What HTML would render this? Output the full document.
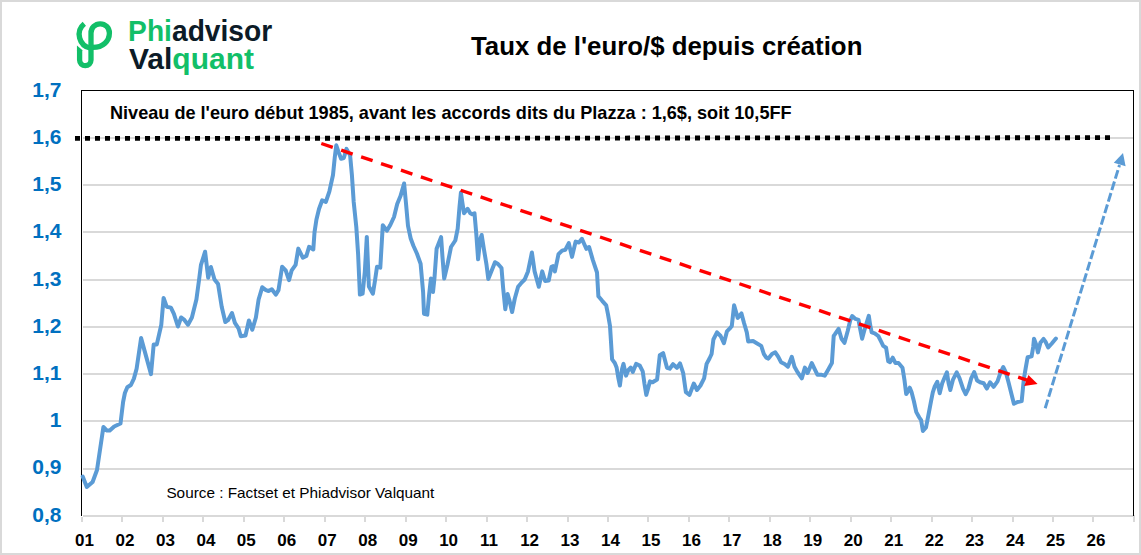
<!DOCTYPE html>
<html><head><meta charset="utf-8"><title>Taux de l'euro/$ depuis création</title>
<style>
html,body{margin:0;padding:0;background:#fff;}
body{width:1141px;height:555px;overflow:hidden;font-family:"Liberation Sans", sans-serif;}
svg{display:block;}
text{font-family:"Liberation Sans", sans-serif;}
</style></head><body>
<svg width="1141" height="555" viewBox="0 0 1141 555">
<rect x="0" y="0" width="1141" height="555" fill="#fff"/>
<rect x="1" y="1" width="1139" height="553" fill="none" stroke="#d9d9d9" stroke-width="2"/>

<g fill="#d9d9d9" shape-rendering="crispEdges">
<rect x="83" y="468" width="1050" height="2"/>
<rect x="83" y="420" width="1050" height="2"/>
<rect x="83" y="373" width="1050" height="2"/>
<rect x="83" y="326" width="1050" height="2"/>
<rect x="83" y="279" width="1050" height="2"/>
<rect x="83" y="231" width="1050" height="2"/>
<rect x="83" y="184" width="1050" height="2"/>
<rect x="83" y="137" width="1050" height="2"/>
<rect x="83" y="515" width="1052" height="2"/>
<rect x="81" y="517" width="2" height="5"/>
<rect x="121" y="517" width="2" height="5"/>
<rect x="162" y="517" width="2" height="5"/>
<rect x="202" y="517" width="2" height="5"/>
<rect x="243" y="517" width="2" height="5"/>
<rect x="283" y="517" width="2" height="5"/>
<rect x="324" y="517" width="2" height="5"/>
<rect x="364" y="517" width="2" height="5"/>
<rect x="405" y="517" width="2" height="5"/>
<rect x="445" y="517" width="2" height="5"/>
<rect x="486" y="517" width="2" height="5"/>
<rect x="526" y="517" width="2" height="5"/>
<rect x="567" y="517" width="2" height="5"/>
<rect x="607" y="517" width="2" height="5"/>
<rect x="647" y="517" width="2" height="5"/>
<rect x="688" y="517" width="2" height="5"/>
<rect x="728" y="517" width="2" height="5"/>
<rect x="769" y="517" width="2" height="5"/>
<rect x="809" y="517" width="2" height="5"/>
<rect x="850" y="517" width="2" height="5"/>
<rect x="890" y="517" width="2" height="5"/>
<rect x="931" y="517" width="2" height="5"/>
<rect x="971" y="517" width="2" height="5"/>
<rect x="1012" y="517" width="2" height="5"/>
<rect x="1052" y="517" width="2" height="5"/>
<rect x="1092" y="517" width="2" height="5"/>
<rect x="1133" y="517" width="2" height="5"/>
</g>
<g fill="#000" shape-rendering="crispEdges">
<rect x="81" y="90" width="1053" height="1"/>
<rect x="81" y="90" width="1" height="426"/>
<rect x="1133" y="90" width="1" height="426"/>
</g>
<g fill="#0070c0" font-weight="bold" font-size="21" text-anchor="end">
<text x="61.5" y="96.6">1,7</text>
<text x="61.5" y="144.0">1,6</text>
<text x="61.5" y="191.1">1,5</text>
<text x="61.5" y="238.3">1,4</text>
<text x="61.5" y="285.7">1,3</text>
<text x="61.5" y="333.1">1,2</text>
<text x="61.5" y="379.9">1,1</text>
<text x="61.5" y="427.1">1</text>
<text x="61.5" y="474.3">0,9</text>
<text x="61.5" y="521.6">0,8</text>
</g>
<g fill="#000" font-weight="bold" font-size="17" text-anchor="middle">
<text x="84.5" y="546">01</text>
<text x="125.0" y="546">02</text>
<text x="165.4" y="546">03</text>
<text x="205.9" y="546">04</text>
<text x="246.3" y="546">05</text>
<text x="286.8" y="546">06</text>
<text x="327.3" y="546">07</text>
<text x="367.7" y="546">08</text>
<text x="408.2" y="546">09</text>
<text x="448.6" y="546">10</text>
<text x="489.1" y="546">11</text>
<text x="529.6" y="546">12</text>
<text x="570.0" y="546">13</text>
<text x="610.5" y="546">14</text>
<text x="650.9" y="546">15</text>
<text x="691.4" y="546">16</text>
<text x="731.9" y="546">17</text>
<text x="772.3" y="546">18</text>
<text x="812.8" y="546">19</text>
<text x="853.2" y="546">20</text>
<text x="893.7" y="546">21</text>
<text x="934.2" y="546">22</text>
<text x="974.6" y="546">23</text>
<text x="1015.1" y="546">24</text>
<text x="1055.5" y="546">25</text>
<text x="1096.0" y="546">26</text>
</g>
<line x1="75" y1="138.4" x2="1110" y2="137.7" stroke="#000" stroke-width="4.8" stroke-dasharray="5 5"/>
<polyline points="82.7,476.6 86.8,487.0 92.6,482.0 97.0,470.0 103.4,427.0 107.0,430.6 109.7,430.6 114.2,426.5 120.5,423.5 123.1,402.0 124.9,393.0 127.3,387.3 130.9,385.0 133.9,378.6 136.6,368.7 141.1,338.1 151.0,374.1 153.7,344.4 156.8,344.4 158.5,337.0 161.3,324.7 163.6,298.0 166.7,306.7 170.9,307.6 173.9,313.9 177.9,326.5 181.1,317.5 183.8,319.3 188.0,324.7 191.9,317.5 196.4,299.5 199.1,279.6 200.9,265.2 205.1,251.7 208.2,277.8 210.9,267.0 214.5,279.5 218.1,284.1 221.7,306.7 225.3,322.0 228.0,320.2 232.0,313.0 234.9,322.9 238.5,328.3 240.8,336.3 245.5,335.5 248.9,320.5 252.3,329.8 255.9,317.5 258.6,299.5 262.3,287.2 265.9,290.1 268.6,291.0 271.8,289.2 275.8,294.6 278.5,290.1 282.1,266.7 285.7,270.3 289.0,280.2 291.7,270.3 295.6,264.9 298.3,248.6 302.8,257.7 306.4,255.9 309.1,246.8 313.3,249.5 314.5,232.4 316.4,219.8 319.0,209.0 322.2,200.3 325.8,202.0 329.4,191.3 333.0,175.0 334.8,157.0 336.3,145.3 338.4,151.6 341.1,158.8 343.8,158.0 346.5,148.9 350.1,155.2 351.9,175.0 353.7,202.0 356.3,227.0 358.1,254.0 359.9,294.6 362.6,293.7 364.8,272.0 366.8,236.9 368.9,286.5 372.9,293.7 375.2,279.3 377.0,266.7 380.3,267.6 382.8,225.2 386.9,230.6 390.3,225.0 394.0,217.0 397.2,204.0 400.5,196.1 404.1,183.5 405.9,202.4 408.0,225.9 410.7,238.5 413.4,245.7 417.0,253.8 420.6,263.7 423.1,292.0 424.0,313.7 427.3,314.6 429.0,295.7 430.9,278.6 433.0,292.0 434.5,277.7 436.6,248.8 441.1,237.1 442.4,256.0 444.2,278.6 447.4,265.0 451.0,247.0 455.3,240.5 457.7,228.6 459.5,207.0 460.9,192.6 462.2,201.6 464.0,213.3 467.6,208.8 470.3,213.3 472.1,214.2 474.5,213.3 476.3,234.0 478.1,259.3 480.2,239.5 481.7,235.0 483.8,248.5 486.5,264.7 488.3,279.0 491.9,270.1 495.0,262.2 498.0,264.0 501.5,268.0 503.1,287.7 505.3,309.3 507.6,294.0 509.4,300.3 512.1,312.0 514.8,298.5 518.1,286.8 521.1,283.2 524.7,279.5 528.0,271.4 531.9,252.5 534.6,271.4 538.8,286.8 542.2,271.4 545.1,281.0 548.7,280.5 551.5,266.8 552.8,266.2 554.9,271.4 558.5,254.2 562.1,250.6 565.4,249.7 568.8,243.1 572.0,256.9 575.6,241.6 578.9,242.5 581.9,238.9 584.3,244.3 586.4,248.8 589.1,247.0 592.7,259.6 597.0,272.5 598.4,296.3 602.2,300.8 606.2,305.3 608.0,314.3 610.0,326.0 612.1,359.4 614.8,363.0 616.6,367.5 618.4,378.3 619.9,385.5 622.0,369.3 623.5,363.9 626.0,375.6 628.3,370.2 630.7,367.5 632.8,372.0 636.1,363.9 639.7,365.5 642.7,371.3 644.5,384.0 646.3,394.9 649.9,381.4 652.6,382.3 657.1,379.5 659.8,355.2 663.1,353.1 667.0,367.8 669.7,368.7 673.0,364.2 676.9,367.8 680.0,363.3 683.2,373.2 685.9,392.2 689.5,394.9 693.8,383.5 697.0,390.0 700.5,385.5 704.1,378.3 706.6,363.9 709.5,358.5 711.6,354.0 713.4,339.5 717.0,332.3 720.6,336.0 723.9,343.2 726.9,331.4 729.6,328.7 731.8,326.0 734.1,305.3 737.7,317.9 741.4,313.4 744.1,323.3 746.8,332.4 748.2,341.4 753.1,341.1 756.7,343.2 761.2,345.9 763.9,354.1 766.3,357.7 768.4,358.6 772.0,354.1 775.3,352.3 778.3,356.8 781.0,362.2 784.6,364.0 787.9,366.7 791.8,356.8 794.5,366.7 797.5,372.1 801.8,378.4 804.9,367.6 807.6,373.0 811.8,363.1 814.8,369.4 817.5,374.8 821.7,374.8 824.7,375.7 828.3,369.4 831.9,363.1 833.7,336.0 835.0,334.2 838.6,328.8 841.5,338.7 844.5,342.8 847.7,331.0 850.2,320.5 852.2,316.0 855.5,318.9 858.5,319.8 860.3,329.7 862.1,338.7 864.8,328.8 868.8,315.9 870.2,325.2 871.7,332.4 874.7,333.3 878.3,336.0 881.0,341.4 883.2,345.9 886.1,347.7 888.2,361.3 890.0,362.2 892.7,357.7 895.5,363.1 898.5,363.0 902.5,367.7 904.4,379.6 906.2,394.1 908.0,391.4 909.8,387.7 911.6,392.3 913.9,401.3 916.3,412.1 919.3,417.5 921.1,420.2 922.9,431.0 926.0,427.4 928.3,415.7 931.0,401.3 932.8,392.3 934.6,386.8 937.3,381.8 939.7,393.2 942.2,383.2 944.5,377.8 946.9,372.4 948.6,383.2 950.3,390.0 953.0,379.6 956.7,372.4 959.4,377.8 963.0,388.6 965.7,394.1 968.4,388.6 971.1,378.7 974.2,372.1 977.1,380.5 980.1,382.3 983.7,383.2 986.8,388.6 990.0,382.3 993.6,386.8 997.5,381.3 1000.2,373.3 1003.3,367.0 1005.8,372.3 1008.5,382.2 1011.2,393.0 1013.9,403.8 1017.5,402.0 1021.7,401.1 1023.8,379.5 1025.6,368.6 1027.6,357.3 1031.6,356.4 1033.2,347.0 1034.0,338.7 1036.4,345.2 1037.9,352.4 1040.4,342.8 1043.5,338.9 1045.5,341.6 1048.2,347.5 1051.8,343.5 1055.9,338.5" fill="none" stroke="#5b9bd5" stroke-width="4" stroke-linejoin="round" stroke-linecap="round"/>
<line x1="321.3" y1="143.5" x2="1027" y2="380.2" stroke="#ff0000" stroke-width="3.4" stroke-dasharray="12.1 8.9"/>
<polygon points="1028.4,374.9 1037.6,384.1 1024.2,386" fill="#ff0000"/>
<line x1="1045.2" y1="408.2" x2="1119.5" y2="165" stroke="#5b9bd5" stroke-width="3" stroke-dasharray="9 3"/>
<polygon points="1123,153 1113.8,162.7 1125.6,166.2" fill="#5b9bd5"/>
<text x="471" y="54.8" font-size="26" font-weight="bold" fill="#000" textLength="391.4" lengthAdjust="spacingAndGlyphs">Taux de l'euro/$ depuis création</text>
<text x="110" y="118.8" font-size="18.5" font-weight="bold" fill="#000" textLength="681.6" lengthAdjust="spacingAndGlyphs">Niveau de l'euro début 1985, avant les accords dits du Plazza : 1,6$, soit 10,5FF</text>
<text x="166.4" y="497.5" font-size="15" fill="#000" textLength="268" lengthAdjust="spacingAndGlyphs">Source : Factset et Phiadvisor Valquant</text>
<text x="128.1" y="40.7" font-size="28.8" font-weight="bold" textLength="144.1" lengthAdjust="spacingAndGlyphs"><tspan fill="#12bf68">Phi</tspan><tspan fill="#0c1b27">advisor</tspan></text>
<text x="129" y="68.5" font-size="28.6" font-weight="bold" textLength="125" lengthAdjust="spacingAndGlyphs"><tspan fill="#0c1b27">Val</tspan><tspan fill="#12bf68">quant</tspan></text>
<g fill="none" stroke="#12bf68" stroke-width="5.3">
<path d="M91,47.4 L91,33 A9.2,9.2 0 0 1 109.4,33 C109.4,41 103,47.4 93,47.4 L91,47.4"/>
<path d="M84.3,23.8 A13.8,13.8 0 0 0 90.6,48.1"/>
<path d="M91,45 L91,60 A5.7,5.7 0 0 1 79.6,60 L79.6,50"/>
</g>
<polygon points="76.95,51 76.95,45.6 82.25,49.9 82.25,51" fill="#12bf68"/>
</svg></body></html>
